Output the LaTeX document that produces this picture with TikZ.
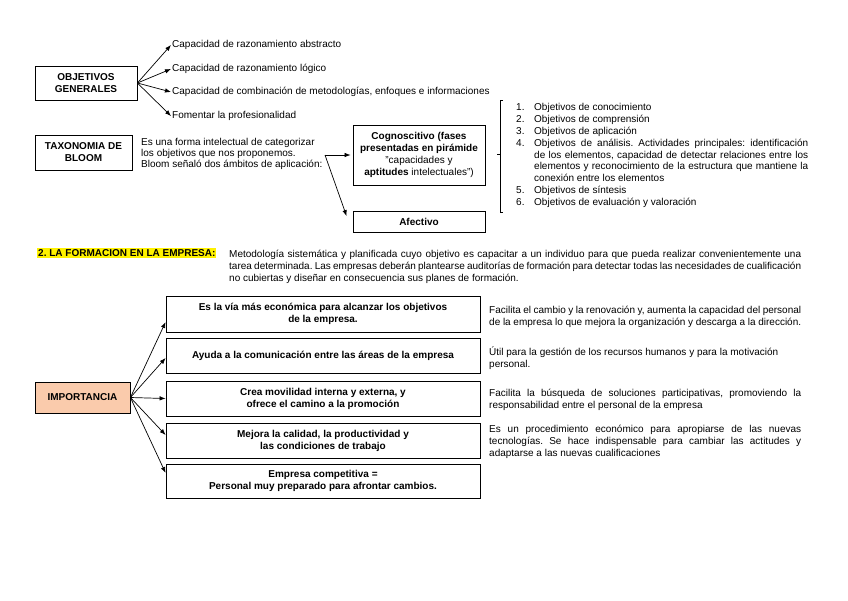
\documentclass[tikz,border=0pt]{standalone}
\usepackage{fontspec}
\setmainfont{Liberation Sans}
\usepackage{xcolor}
\usetikzlibrary{arrows.meta}

\definecolor{peach}{RGB}{250,203,172}
\newcommand{\mapfont}{\fontsize{10}{11.9}\selectfont\frenchspacing}

\tikzset{
    box/.style={draw, line width=0.8pt, font=\mapfont\bfseries, align=center, inner sep=2pt},
    txt/.style={anchor=west, inner sep=1pt},
    para/.style={anchor=north west, inner sep=0pt, align=justify},
    link/.style={-{Latex[length=6pt,width=4.5pt]}, line width=0.7pt},
}

\begin{document}
\begin{tikzpicture}[x=1pt, y=-1pt, font=\mapfont]

    \useasboundingbox (0,0) rectangle (848,600);

    % Objetivos generales
    \node[box, minimum width=102pt, minimum height=34pt] (objgen) at (86,83) {OBJETIVOS\\GENERALES};
    \node[txt] (og1) at (171,45) {Capacidad de razonamiento abstracto};
    \node[txt] (og2) at (171,69) {Capacidad de razonamiento lógico};
    \node[txt] (og3) at (171,92) {Capacidad de combinación de metodologías, enfoques e informaciones};
    \node[txt] (og4) at (171,116) {Fomentar la profesionalidad};
    \foreach \t in {og1,og2,og3,og4}
        \draw[link] (objgen.east) -- (\t.west);

    % Taxonomia de Bloom
    \node[box, minimum width=97pt, minimum height=35pt] (taxo) at (83.5,152.5) {TAXONOMIA DE\\BLOOM};
    \node[anchor=north west, inner sep=0pt, align=left] (desc) at (141,138)
        {Es una forma intelectual de categorizar\\[-1pt]los objetivos que nos proponemos.\\[-1pt]Bloom señaló dos ámbitos de aplicación:};
    \node[box, minimum width=132pt, minimum height=60pt] (cogn) at (419,155)
        {Cognoscitivo (fases\\presentadas en pirámide\\\mdseries"capacidades y\\\bfseries aptitudes \mdseries intelectuales")};
    \node[box, minimum width=132pt, minimum height=21pt] (afect) at (419,222) {Afectivo};
    \coordinate (fork) at (325,155);
    \draw[link] (fork) -- ([xshift=-2pt]cogn.west);
    \draw[link] (fork) -- ([xshift=-6pt,yshift=-5pt]afect.north west);

    % Niveles
    \draw[line width=0.4pt] (503,100) -- (500,100) -- (500,212) -- (503,212);
    \draw[line width=0.4pt] (500,154) -- (497,154);
    \node[para, text width=292pt] (niveles) at (516,103) {%
        \makebox[18pt][l]{1.}Objetivos de conocimiento\par
        \makebox[18pt][l]{2.}Objetivos de comprensión\par
        \makebox[18pt][l]{3.}Objetivos de aplicación\par
        \hangindent=18pt\hangafter=1
        \makebox[18pt][l]{4.}Objetivos de análisis. Actividades principales: identificación\linebreak
        de los elementos, capacidad de detectar relaciones entre los\linebreak
        elementos y reconocimiento de la estructura que mantiene la\linebreak
        conexión entre los elementos\par
        \makebox[18pt][l]{5.}Objetivos de síntesis\par
        \makebox[18pt][l]{6.}Objetivos de evaluación y valoración};

    % La formacion en la empresa
    \node[anchor=west, inner sep=1pt, fill=yellow, font=\mapfont\bfseries] (titulo) at (37,253)
        {2. LA FORMACION EN LA EMPRESA:};
    \node[para, text width=572pt] (def) at (229,250)
        {Metodología sistemática y planificada cuyo objetivo es capacitar a un individuo para que pueda realizar convenientemente una\linebreak
         tarea determinada. Las empresas deberán plantearse auditorías de formación para detectar todas las necesidades de cualificación\linebreak
         no cubiertas y diseñar en consecuencia sus planes de formación.};

    % Importancia
    \node[box, fill=peach, minimum width=95pt, minimum height=31pt] (imp) at (82.5,397.5) {IMPORTANCIA};
    \node[box, minimum width=314pt, minimum height=36pt] (b1) at (323,314)
        {Es la vía más económica para alcanzar los objetivos\\de la empresa.};
    \node[box, minimum width=314pt, minimum height=35pt] (b2) at (323,355.5)
        {Ayuda a la comunicación entre las áreas de la empresa};
    \node[box, minimum width=314pt, minimum height=35pt] (b3) at (323,398.5)
        {Crea movilidad interna y externa, y\\ofrece el camino a la promoción};
    \node[box, minimum width=314pt, minimum height=35pt] (b4) at (323,440.5)
        {Mejora la calidad, la productividad y\\las condiciones de trabajo};
    \node[box, minimum width=314pt, minimum height=34pt] (b5) at (323,481)
        {Empresa competitiva =\\Personal muy preparado para afrontar cambios.};
    \draw[link] (imp.east) -- ([yshift=-8pt]b1.west);
    \draw[link] (imp.east) -- ([yshift=-2.5pt]b2.west);
    \draw[link] (imp.east) -- (b3.west);
    \draw[link] (imp.east) -- ([yshift=5.5pt]b4.west);
    \draw[link] (imp.east) -- ([yshift=8pt]b5.west);

    % Comentarios
    \node[para, text width=312pt] (c1) at (489,306)
        {Facilita el cambio y la renovación y, aumenta la capacidad del personal\linebreak
         de la empresa lo que mejora la organización y descarga a la dirección.};
    \node[para, text width=312pt] (c2) at (489,347)
        {Útil para la gestión de los recursos humanos y para la motivación\\personal.};
    \node[para, text width=312pt] (c3) at (489,389)
        {Facilita la búsqueda de soluciones participativas, promoviendo la\linebreak
         responsabilidad entre el personal de la empresa};
    \node[para, text width=312pt] (c4) at (489,425)
        {Es un procedimiento económico para apropiarse de las nuevas\linebreak
         tecnologías. Se hace indispensable para cambiar las actitudes y\linebreak
         adaptarse a las nuevas cualificaciones};

\end{tikzpicture}
\end{document}
